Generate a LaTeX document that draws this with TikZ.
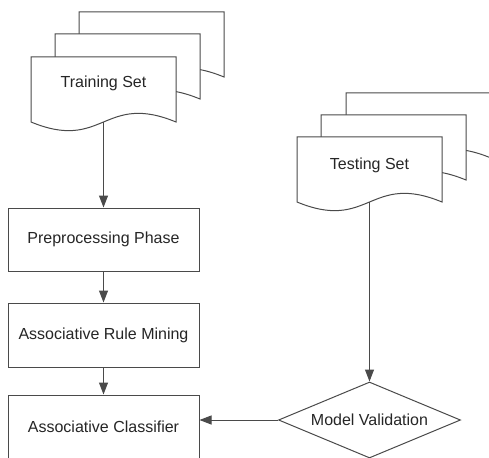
\documentclass[tikz,border=0pt]{standalone}
\usepackage{fontspec}
\setmainfont{Liberation Sans}
\usetikzlibrary{arrows.meta,shapes.geometric}
\definecolor{linec}{HTML}{4A4A4A}
\definecolor{textc}{HTML}{262626}
\newcommand{\docshape}[2]{%
  \filldraw[docstyle] (#1,#2) -- ({#1+145},#2) -- ({#1+145},{#2+65})
    .. controls ({#1+72.5},{#2+35}) and ({#1+72.5},{#2+95}) .. (#1,{#2+65}) -- cycle;}
\begin{document}
\begin{tikzpicture}[x=1pt,y=-1pt,
  every node/.style={text=textc,font=\fontsize{16}{19}\selectfont},
  docstyle/.style={draw=linec,fill=white,line width=1pt,line join=miter},
  procbox/.style={draw=linec,fill=white,line width=1pt,rectangle,minimum width=191pt,inner sep=0pt},
  decide/.style={draw=linec,fill=white,line width=1pt,diamond,aspect=2.4,inner sep=0pt,minimum width=182pt,minimum height=76pt},
  flow/.style={draw=linec,line width=1pt,-{Triangle[length=12pt,width=9pt]}}]
\clip (0,0) rectangle (489,457);
\fill[white] (0,0) rectangle (489,457);
% Training set stack
\docshape{79}{12}
\docshape{55}{34}
\docshape{31}{57}
\node (train) at (103.5,83) {Training Set};
\coordinate (trainbot) at (103.5,122);
% Testing set stack
\docshape{346}{93}
\docshape{321}{115}
\docshape{297}{137}
\node (test) at (369.5,165) {Testing Set};
\coordinate (testbot) at (369.5,202);
% Process boxes
\node[procbox,minimum height=63pt] (prep) at (103.5,239.5) {Preprocessing Phase};
\node[procbox,minimum height=64pt] (arm) at (103.5,335) {Associative Rule Mining};
\node[procbox,minimum height=64pt] (ac) at (103.5,427) {Associative Classifier};
\node[decide] (mv) at (369.5,420) {Model Validation};
% Connectors
\draw[flow] (trainbot) -- (prep.north);
\draw[flow] (prep.south) -- (arm.north);
\draw[flow] (arm.south) -- (ac.north);
\draw[flow] (testbot) -- (mv.north);
\draw[flow] (mv.west) -- (mv.west -| ac.east);
\end{tikzpicture}
\end{document}
